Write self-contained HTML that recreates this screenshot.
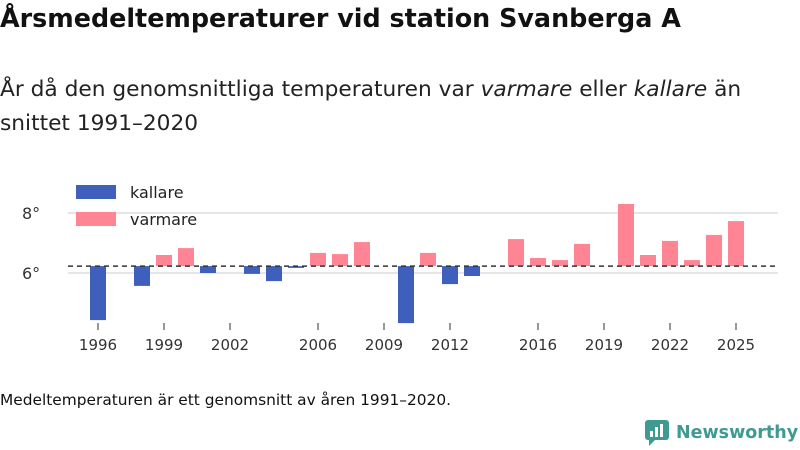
<!DOCTYPE html>
<html><head><meta charset="utf-8"><style>
body{margin:0;width:800px;height:450px;background:#fff;font-family:"Liberation Sans","DejaVu Sans",sans-serif;overflow:hidden;position:relative}
.t{position:absolute;left:0;color:#111;white-space:nowrap}
</style></head><body>
<div class="t" style="top:3px;font-size:25.4px;font-weight:bold;font-family:'DejaVu Sans',sans-serif">Årsmedeltemperaturer vid station Svanberga A</div>
<div class="t" style="top:73px;font-size:21.7px;line-height:34px;font-family:'DejaVu Sans',sans-serif;color:#222">År då den genomsnittliga temperaturen var <i>varmare</i> eller <i>kallare</i> än<br>snittet 1991–2020</div>
<svg id="c" width="800" height="450" style="position:absolute;left:0;top:0"></svg>
<div class="t" style="top:391px;font-size:15.4px;font-family:'DejaVu Sans',sans-serif">Medeltemperaturen är ett genomsnitt av åren 1991–2020.</div>
<div style="position:absolute;left:644px;top:419px;display:flex;align-items:center;color:#3f9a92;font-size:17.5px;font-weight:bold;font-family:'DejaVu Sans',sans-serif;white-space:nowrap">
<svg width="26" height="28" style="margin-right:6px"><rect x="1" y="1" width="24" height="20" rx="3" fill="#3f9a92"/><path d="M5 21 L5 27 L11 21Z" fill="#3f9a92"/><rect x="6" y="12" width="3" height="6" fill="#fff"/><rect x="11" y="8" width="3" height="10" fill="#fff"/><rect x="16" y="5" width="3" height="13" fill="#fff"/></svg>Newsworthy</div>
<script>
const years=[1996,1998,1999,2000,2001,2003,2004,2005,2006,2007,2008,2010,2011,2012,2013,2015,2016,2017,2018,2020,2021,2022,2023,2024,2025];
const temps=[4.43,5.57,6.6,6.83,6.0,5.97,5.73,6.17,6.67,6.63,7.03,4.33,6.67,5.63,5.9,7.13,6.5,6.43,6.97,8.3,6.6,7.07,6.43,7.27,7.73];
const mean=6.23;
const xTicks=[1996,1999,2002,2006,2009,2012,2016,2019,2022,2025];
const yTicks=[6,8];
const svg=document.getElementById('c');const NS='http://www.w3.org/2000/svg';
const x=v=>98+(v-1996)*22;const y=v=>273-(v-6)*30;
function mk(t,a,p){const e=document.createElementNS(NS,t);for(const k in a)e.setAttribute(k,a[k]);(p||svg).appendChild(e);return e;}
yTicks.forEach(v=>{const l=mk('line',{x1:68,x2:778,y1:y(v),y2:y(v),stroke:'#ddd','stroke-width':1.5});


const t=mk('text',{x:22,y:y(v)+6,'font-size':16,fill:'#333','font-family':'DejaVu Sans,sans-serif'});t.textContent=v+'°';

});
years.forEach((yr,i)=>{const v=temps[i];const top=Math.min(y(v),y(mean)),h=Math.abs(y(v)-y(mean));
const r=mk('rect',{x:x(yr)-8,y:top,width:16,height:Math.max(h,1),fill:v<mean?'#3e5fbb':'#ff8595'});

});
const ml=mk('line',{x1:68,x2:778,y1:y(mean),y2:y(mean),stroke:'#333','stroke-width':1.5,'stroke-dasharray':'5,4'});


xTicks.forEach(v=>{mk('line',{x1:x(v),x2:x(v),y1:323,y2:330,stroke:'#333'});
const t=mk('text',{x:x(v),y:350,'font-size':15,fill:'#333','text-anchor':'middle','font-family':'DejaVu Sans,sans-serif'});t.textContent=v;

});
[['kallare','#3e5fbb',185],['varmare','#ff8595',212]].forEach(([n,c,yy])=>{
const r=mk('rect',{x:76,y:yy,width:40,height:14,fill:c});


const t=mk('text',{x:130,y:yy+13,'font-size':16,fill:'#222','font-family':'DejaVu Sans,sans-serif'});t.textContent=n;

});
</script>
</body></html>
